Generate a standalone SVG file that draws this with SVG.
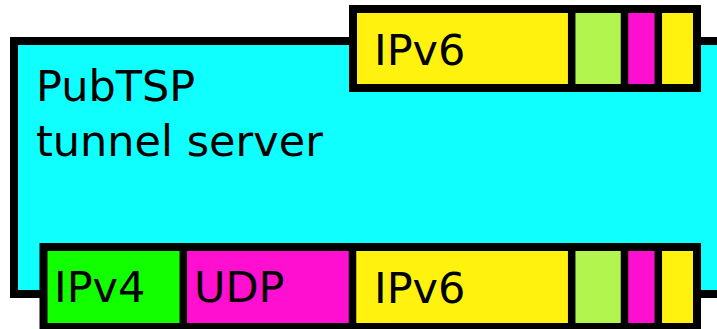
<svg xmlns="http://www.w3.org/2000/svg" width="717" height="329" viewBox="0 0 717 329">
  <style>
    .frame { stroke: #000; stroke-width: 8; stroke-linejoin: miter; }
    .cell { stroke: none; }
    .sep { stroke: #000; stroke-width: 7.5; fill: none; }
    .lbl { font-family: "DejaVu Sans", "Liberation Sans", sans-serif; font-size: 43px; fill: #000; }
    .cyan { fill: #0fffff; }
    .yellow { fill: #fff20f; }
    .lime { fill: #b2f54f; }
    .pink { fill: #ff10d0; }
    .green { fill: #12ff00; }
  </style>

  <!-- tunnel server box, open to the right -->
  <g id="server">
    <rect class="frame cyan" x="14" y="41" width="730" height="253"/>
    <text class="lbl" x="36" y="101">PubTSP</text>
    <text class="lbl" x="36" y="156">tunnel server</text>
  </g>

  <!-- native IPv6 packet -->
  <g id="packet-ipv6">
    <rect class="cell yellow" x="353" y="9" width="218" height="79"/>
    <rect class="cell lime" x="571" y="9" width="53" height="79"/>
    <rect class="cell pink" x="624" y="9" width="34" height="79"/>
    <rect class="cell yellow" x="658" y="9" width="39" height="79"/>
    <path class="sep" d="M571.7 9V88M624.5 9V88M658.3 9V88"/>
    <rect class="frame" fill="none" x="353" y="9" width="344" height="79"/>
    <text class="lbl" x="374" y="65">IPv6</text>
  </g>

  <!-- IPv6 packet encapsulated in UDP over IPv4 -->
  <g id="packet-tunnelled">
    <rect class="cell green" x="43.5" y="247" width="140" height="80"/>
    <rect class="cell pink" x="183" y="247" width="170" height="80"/>
    <rect class="cell yellow" x="352" y="247" width="219" height="80"/>
    <rect class="cell lime" x="571" y="247" width="53" height="80"/>
    <rect class="cell pink" x="624" y="247" width="34" height="80"/>
    <rect class="cell yellow" x="658" y="247" width="39" height="80"/>
    <path class="sep" d="M183.3 247V327M352.5 247V327M571.7 247V327M624.5 247V327M658.3 247V327"/>
    <rect class="frame" fill="none" x="43.5" y="247" width="653.5" height="80"/>
    <text class="lbl" x="54" y="302">IPv4</text>
    <text class="lbl" x="194" y="302">UDP</text>
    <text class="lbl" x="374" y="303">IPv6</text>
  </g>
</svg>
